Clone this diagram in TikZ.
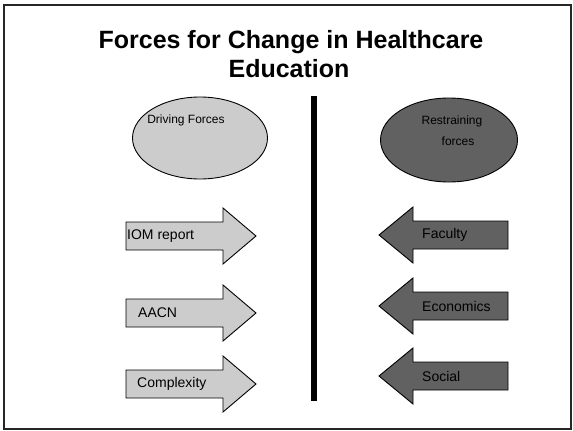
\documentclass[tikz,border=0pt]{standalone}
\usepackage{fontspec}
\setmainfont{Liberation Sans}
\usetikzlibrary{shapes.geometric}

\tikzset{
  drivefill/.style={fill=black!20, draw=black, line width=0.9pt},
  restrainfill/.style={fill=black!62, draw=black, line width=0.9pt},
  forcelabel/.style={font=\fontsize{14}{16}\selectfont, anchor=west, inner sep=0pt},
  ovallabel/.style={font=\fontsize{12}{14}\selectfont, inner sep=0pt},
  titlefont/.style={font=\bfseries\fontsize{25}{28}\selectfont, anchor=base, inner sep=0pt},
}

\begin{document}
\begin{tikzpicture}[x=1pt, y=-1pt]
    \useasboundingbox (0,0) rectangle (573,431);
    \draw[line width=1.5pt, black!85] (4,5) rectangle (571,429);

    \node[titlefont] (title1) at (291,48.5) {Forces for Change in Healthcare};
    \node[titlefont] (title2) at (289,77) {Education};

    % the two ovals
    \node[ellipse, drivefill, minimum width=135pt, minimum height=82pt] (driving) at (200,138) {};
    \node[ovallabel] (drivingtxt) at (186,120) {Driving Forces};
    \node[ellipse, restrainfill, minimum width=137pt, minimum height=84pt] (restraining) at (449,140) {};
    \node[ovallabel] (restrainingtxt) at (452,121) {Restraining};
    \node[ovallabel] (forcestxt) at (458,141) {forces};

    % divider
    \coordinate (divtop) at (314,96);
    \coordinate (divbot) at (314,401);
    \draw[line width=6pt] (divtop) -- (divbot);

    % driving arrows
    \foreach \cy/\name/\tx/\txt in {236/iom/127/IOM report, 313/aacn/138/AACN, 384/complexity/137/Complexity} {
      \draw[drivefill] (126,\cy-14) -- (223,\cy-14) -- (223,\cy-28) -- (256,\cy)
        -- (223,\cy+28) -- (223,\cy+14) -- (126,\cy+14) -- cycle;
      \node[forcelabel] (\name) at (\tx,\cy) {\txt};
    }

    % restraining arrows
    \foreach \cy/\name/\txt in {235/faculty/Faculty, 306/economics/Economics, 376/social/Social} {
      \draw[restrainfill] (508,\cy-14) -- (413,\cy-14) -- (413,\cy-28) -- (379,\cy)
        -- (413,\cy+28) -- (413,\cy+14) -- (508,\cy+14) -- cycle;
      \node[forcelabel] (\name) at (422,\cy) {\txt};
    }
\end{tikzpicture}
\end{document}
